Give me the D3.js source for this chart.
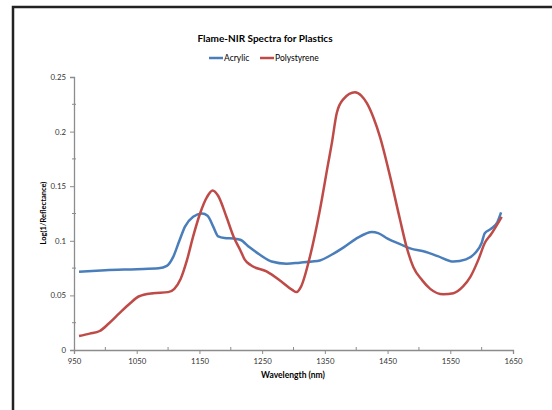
<!DOCTYPE html>
<html>
<head>
<meta charset="utf-8">
<script src="https://cdn.jsdelivr.net/npm/d3@7"></script>
<style>
  body { margin: 0; background: #fff; }
  text { font-family: Lato, "Open Sans", sans-serif; }
</style>
</head>
<body>
<script>
// Flame-NIR spectra

var acrylicNm = [958, 1000, 1050, 1085, 1098, 1108, 1118, 1127, 1140, 1154, 1163, 1172, 1180, 1190, 1205, 1215,
  1230, 1247, 1265, 1289, 1310, 1330, 1342, 1360, 1380, 1400, 1415, 1425, 1435, 1450, 1470, 1486, 1510, 1530,
  1555, 1575, 1590, 1600, 1605, 1615, 1625, 1631];
var acrylicVal = [0.0717, 0.073, 0.074, 0.0748, 0.077, 0.085, 0.100, 0.113, 0.122, 0.125, 0.123, 0.113, 0.104, 0.1025, 0.102, 0.101,
  0.094, 0.087, 0.081, 0.079, 0.080, 0.081, 0.082, 0.087, 0.094, 0.102, 0.1065, 0.108, 0.107, 0.102, 0.097, 0.093, 0.090, 0.086,
  0.081, 0.083, 0.089, 0.098, 0.107, 0.111, 0.117, 0.126];

var polyNm = [958, 975, 991, 1005, 1023, 1040, 1053, 1076, 1100, 1110, 1120, 1130, 1140, 1151, 1162, 1171, 1180, 1193,
  1205, 1215, 1222, 1231, 1257, 1280, 1298, 1305, 1312, 1326, 1342, 1355, 1361, 1369, 1380, 1398, 1408, 1417, 1428,
  1438, 1454, 1470, 1480, 1491, 1505, 1518, 1539, 1555, 1570, 1582, 1595, 1605, 1615, 1632];
var polyVal = [0.0128, 0.015, 0.0174, 0.024, 0.034, 0.043, 0.049, 0.052, 0.053, 0.056, 0.065, 0.082, 0.104, 0.125, 0.140, 0.146, 0.141, 0.122,
  0.103, 0.0916, 0.083, 0.078, 0.072, 0.063, 0.055, 0.053, 0.058, 0.085, 0.128, 0.170, 0.189, 0.217, 0.230, 0.236, 0.233, 0.226, 0.212,
  0.195, 0.159, 0.119, 0.095, 0.076, 0.064, 0.056, 0.051, 0.052, 0.058, 0.067, 0.083, 0.098, 0.106, 0.122];

var xTicks = [950, 1050, 1150, 1250, 1350, 1450, 1550, 1650];
var yTicks = [0, 0.05, 0.1, 0.15, 0.2, 0.25];
var seriesNames = ['Acrylic', 'Polystyrene'];
var seriesColors = ['#4a7ebb', '#be4b48'];

var width = 552,
    height = 410;

var svg = d3.select('body').append('svg')
    .attr('width', width)
    .attr('height', height);

// chart frame (runs off the right and bottom of the picture)
svg.append('rect')
    .attr('x', 13).attr('y', 7)
    .attr('width', 560).attr('height', 420)
    .style('fill', 'none')
    .style('stroke', '#222')
    .style('stroke-width', 2.5);

var x = d3.scaleLinear().domain([950, 1650]).range([74, 513]);
var y = d3.scaleLinear().domain([0, 0.25]).range([350, 77]);

// minor ticks
var minorX = d3.range(1000, 1650, 100);
var minorY = d3.range(0.025, 0.25, 0.05);

var axisColor = '#8c8c8c';

var xAxis = svg.append('g')
    .attr('transform', 'translate(0,350)')
    .call(d3.axisBottom(x).tickValues(xTicks).tickSize(4).tickPadding(4).tickFormat(d3.format('d')));
var yAxis = svg.append('g')
    .attr('transform', 'translate(74,0)')
    .call(d3.axisLeft(y).tickValues(yTicks).tickSize(4).tickPadding(4).tickFormat(function(d){ return d === 0 ? '0' : String(+d.toFixed(3)); }));

[xAxis, yAxis].forEach(function(g){
  g.select('.domain').style('stroke', axisColor).style('stroke-width', 1.3);
  g.selectAll('.tick line').style('stroke', axisColor);
  g.selectAll('.tick text').style('fill', '#333').style('font-size', '7.8px').style('font-family', 'Lato, sans-serif');
});

svg.selectAll('.minor-x').data(minorX).enter().append('line')
    .attr('x1', function(d){ return x(d); }).attr('x2', function(d){ return x(d); })
    .attr('y1', 350).attr('y2', 347)
    .style('stroke', axisColor);
svg.selectAll('.minor-y').data(minorY).enter().append('line')
    .attr('x1', 72).attr('x2', 76)
    .attr('y1', function(d){ return y(d); }).attr('y2', function(d){ return y(d); })
    .style('stroke', axisColor);

// lines
var line = d3.line()
    .x(function(d){ return x(d[0]); })
    .y(function(d){ return y(d[1]); })
    .curve(d3.curveMonotoneX);

var series = [d3.zip(acrylicNm, acrylicVal), d3.zip(polyNm, polyVal)];

svg.selectAll('.series').data(series).enter().append('path')
    .attr('d', line)
    .style('fill', 'none')
    .style('stroke', function(d, i){ return seriesColors[i]; })
    .style('stroke-width', 2.5)
    .style('stroke-linejoin', 'round');

// title
svg.append('text')
    .attr('x', 265).attr('y', 42)
    .attr('text-anchor', 'middle')
    .style('font-size', '10px').style('font-weight', 'bold')
    .text('Flame-NIR Spectra for Plastics');

// legend
var legendX = [209, 260];
var legend = svg.selectAll('.legend').data(seriesNames).enter().append('g')
    .attr('transform', function(d, i){ return 'translate(' + legendX[i] + ',58)'; });
legend.append('line')
    .attr('x1', 0).attr('x2', 14).attr('y1', 0).attr('y2', 0)
    .style('stroke', function(d, i){ return seriesColors[i]; })
    .style('stroke-width', 2.5);
legend.append('text')
    .attr('x', 15).attr('y', 3)
    .style('font-size', '8.5px')
    .text(function(d){ return d; });

// axis titles
svg.append('text')
    .attr('x', 293).attr('y', 378)
    .attr('text-anchor', 'middle')
    .style('font-size', '8.5px').style('font-weight', 'bold')
    .text('Wavelength (nm)');

svg.append('text')
    .attr('transform', 'translate(46,213) rotate(-90)')
    .attr('text-anchor', 'middle')
    .style('font-size', '7.5px').style('font-weight', 'bold')
    .text('Log(1/Reflectance)');
</script>
</body>
</html>
